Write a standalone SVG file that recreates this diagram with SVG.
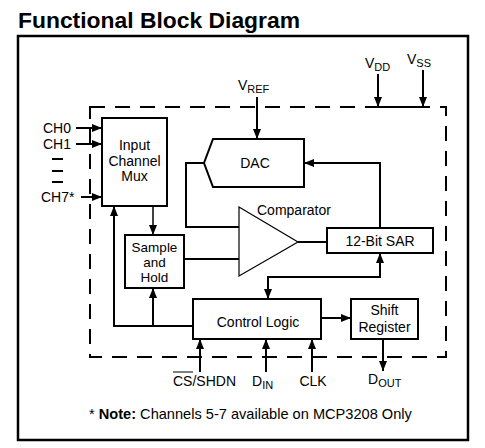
<svg xmlns="http://www.w3.org/2000/svg" width="485" height="448" viewBox="0 0 485 448">
<style>
text{font-family:"Liberation Sans",Arial,sans-serif;font-size:14px;fill:#000}
.t{font-size:21.5px;font-weight:bold}
.c{text-anchor:middle}
.s{font-size:11px}
.sm{font-size:13.5px}
.box{fill:#fff;stroke:#000;stroke-width:2}
.ln{fill:none;stroke:#000;stroke-width:2}
.thin{fill:none;stroke:#000;stroke-width:1.5}
.dash{fill:none;stroke:#000;stroke-width:2;stroke-dasharray:15,10}
</style>
<defs>
<marker id="a" viewBox="0 0 10 8" refX="10" refY="4" markerWidth="10" markerHeight="8" markerUnits="userSpaceOnUse" orient="auto-start-reverse"><path d="M0,0L10,4L0,8z" fill="#000"/></marker>
</defs>
<rect width="485" height="448" fill="#fff"/>
<text class="t" x="18" y="28" textLength="282" lengthAdjust="spacingAndGlyphs">Functional Block Diagram</text>
<rect x="18" y="36" width="450" height="404" fill="none" stroke="#000" stroke-width="2.5"/>
<rect class="dash" x="90" y="107" width="356" height="250"/>
<g id="connectors">
<path class="ln" d="M76,128H102" marker-end="url(#a)"/>
<path class="ln" d="M76,144H102" marker-end="url(#a)"/>
<path class="ln" d="M81,197H102" marker-end="url(#a)"/>
<path class="ln" d="M52,159H63M52,171H63M52,182H63"/>
<path class="ln" d="M257,97V139" marker-end="url(#a)"/>
<path class="ln" d="M378,74V107" marker-end="url(#a)"/>
<path class="ln" d="M423,70V107" marker-end="url(#a)"/>
<path class="ln" d="M378,107H423"/>
<path class="ln" d="M204,163H186V227H239"/>
<path class="ln" d="M298,242H327"/>
<path class="ln" d="M380,228V163H304" marker-end="url(#a)"/>
<path class="ln" d="M268,299V277H380V253" marker-start="url(#a)" marker-end="url(#a)"/>
<path class="ln" d="M321,318H351" marker-end="url(#a)"/>
<path class="ln" d="M383,339V371" marker-end="url(#a)"/>
<path class="ln" d="M200,372V339" marker-end="url(#a)"/>
<path class="ln" d="M266,372V339" marker-end="url(#a)"/>
<path class="ln" d="M312,372V339" marker-end="url(#a)"/>
<path class="thin" d="M153,206V235" marker-end="url(#a)"/>
<path class="ln" d="M184,259H239"/>
<path class="ln" d="M193,326H114V206" marker-end="url(#a)"/>
<path class="ln" d="M153,326V288" marker-end="url(#a)"/>
</g>
<g id="mux">
<rect class="box" x="102" y="118" width="65" height="88"/>
<text class="c" x="134.5" y="150">Input</text>
<text class="c" x="134.5" y="166">Channel</text>
<text class="c" x="134.5" y="181">Mux</text>
</g>
<g id="sh">
<rect class="box" x="125" y="235" width="59" height="53"/>
<text class="c sm" x="154.5" y="252">Sample</text>
<text class="c sm" x="154.5" y="267">and</text>
<text class="c sm" x="154.5" y="282">Hold</text>
</g>
<g id="dac">
<path class="box" d="M213,139H304V187H213L204,163Z" stroke-width="1.5"/>
<text class="c" x="255" y="168">DAC</text>
</g>
<g id="comparator">
<path d="M239,207L298,242L239,276Z" fill="#fff" stroke="#000" stroke-width="1.2"/>
<text x="257" y="215">Comparator</text>
</g>
<g id="sar">
<rect class="box" x="327" y="228" width="106" height="25"/>
<text class="c" x="380" y="246">12-Bit SAR</text>
</g>
<g id="control">
<rect class="box" x="193" y="299" width="128" height="40"/>
<text class="c" x="258" y="327">Control Logic</text>
</g>
<g id="shift">
<rect class="box" x="351" y="299" width="67" height="40"/>
<text class="c" x="384.5" y="315">Shift</text>
<text class="c" x="384.5" y="332">Register</text>
</g>
<g id="labels">
<text x="43" y="133">CH0</text>
<text x="43" y="149">CH1</text>
<text x="41" y="202">CH7*</text>
<text x="238" y="90">V<tspan class="s" dy="3">REF</tspan></text>
<text x="365" y="68">V<tspan class="s" dy="3">DD</tspan></text>
<text x="407" y="64">V<tspan class="s" dy="3">SS</tspan></text>
<text x="173" y="386">CS/SHDN</text>
<path d="M173,372H193" stroke="#000" stroke-width="1"/>
<text x="252" y="386">D<tspan class="s" dy="3">IN</tspan></text>
<text class="c" x="313" y="386">CLK</text>
<text x="368" y="384">D<tspan class="s" dy="3">OUT</tspan></text>
<text x="89" y="419" style="font-size:14.6px">* <tspan font-weight="bold">Note:</tspan> Channels 5-7 available on MCP3208 Only</text>
</g>
</svg>
